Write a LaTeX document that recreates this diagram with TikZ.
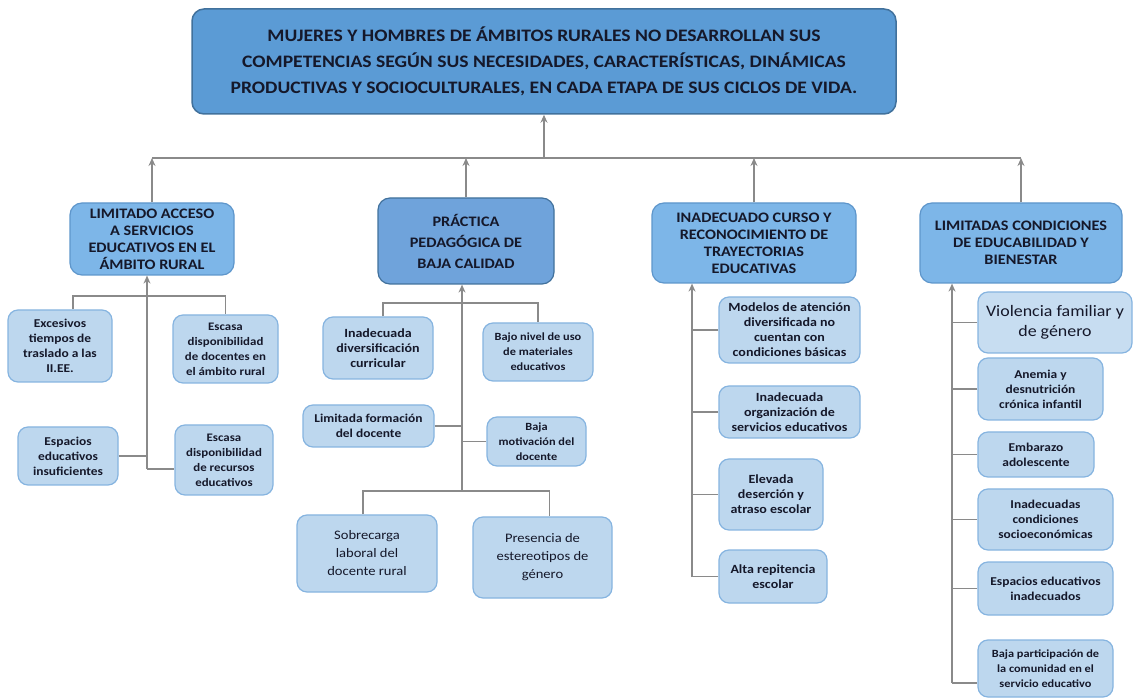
\documentclass[tikz,border=0pt]{standalone}
\usepackage{fontspec}
\setmainfont{Carlito}[FakeStretch=1.12]
\usetikzlibrary{arrows.meta}

\definecolor{topfill}{HTML}{5B9BD5}
\definecolor{topline}{HTML}{41719C}
\definecolor{catfill}{HTML}{7DB6E8}
\definecolor{catline}{HTML}{5E96CB}
\definecolor{cattwo}{HTML}{6FA3DB}
\definecolor{subfill}{HTML}{BDD7EE}
\definecolor{subline}{HTML}{86B4E0}
\definecolor{linkgray}{HTML}{8A8A8A}
\definecolor{ink}{HTML}{15182A}

\begin{document}
\begin{tikzpicture}[x=1pt, y=-1pt,
  efecto/.style={draw=topline, line width=1.5pt, fill=topfill, rounded corners=12pt, align=center,
    font=\fontsize{17.5}{26}\selectfont\bfseries, text=ink},
  causa/.style={draw=catline, line width=1.2pt, fill=catfill, rounded corners=12pt, align=center,
    font=\fontsize{14.5}{17}\selectfont\bfseries, text=ink},
  causados/.style={causa, draw=topline, fill=cattwo, font=\fontsize{14.5}{21}\selectfont\bfseries},
  sub/.style={draw=subline, line width=1.2pt, fill=subfill, rounded corners=10pt, align=center,
    font=\fontsize{#1}{15}\selectfont\bfseries, text=ink},
  sub/.default=12,
  subreg/.style={sub, font=\fontsize{#1}{18}\selectfont},
  subreg/.default=13,
  link/.style={draw=linkgray, line width=1.5pt},
  flecha/.style={link, -{Stealth[length=8pt, width=7pt]}}]
\useasboundingbox (0,0) rectangle (1136,700);

\node[efecto, minimum width=704pt, minimum height=105pt] (top) at (544,61.5)
  {MUJERES Y HOMBRES DE ÁMBITOS RURALES NO DESARROLLAN SUS\\COMPETENCIAS SEGÚN SUS NECESIDADES, CARACTERÍSTICAS, DINÁMICAS\\PRODUCTIVAS Y SOCIOCULTURALES, EN CADA ETAPA DE SUS CICLOS DE VIDA.};

\node[causa, minimum width=164pt, minimum height=72pt] (c1) at (152,239)
  {LIMITADO ACCESO\\A SERVICIOS\\EDUCATIVOS EN EL\\ÁMBITO RURAL};
\node[causados, minimum width=176pt, minimum height=86pt] (c2) at (466,241)
  {PRÁCTICA\\PEDAGÓGICA DE\\BAJA CALIDAD};
\node[causa, minimum width=204pt, minimum height=80pt] (c3) at (754,243)
  {INADECUADO CURSO Y\\RECONOCIMIENTO DE\\TRAYECTORIAS\\EDUCATIVAS};
\node[causa, minimum width=202pt, minimum height=80pt] (c4) at (1021,243)
  {LIMITADAS CONDICIONES\\DE EDUCABILIDAD Y\\BIENESTAR};

\coordinate (h) at (544,158);
\draw[link] (c1.north |- h) -- (c4.north |- h);
\draw[flecha] (h) -- (top.south);
\foreach \c in {c1,c2,c3,c4}
  \draw[flecha] (\c.north) -- (\c.north |- h);

% limitado acceso
\node[sub, minimum width=104pt, minimum height=72pt] (s11) at (60,346) {Excesivos\\tiempos de\\traslado a las\\II.EE.};
\node[sub=11.5, minimum width=105pt, minimum height=68pt] (s12) at (225.5,349) {Escasa\\disponibilidad\\de docentes en\\el ámbito rural};
\node[sub, minimum width=100pt, minimum height=58pt] (s13) at (68,456) {Espacios\\educativos\\insuficientes};
\node[sub=11.5, minimum width=98pt, minimum height=70pt] (s14) at (224,460) {Escasa\\disponibilidad\\de recursos\\educativos};
\coordinate (t1) at (147,469);
\coordinate (j1) at (147,296);
\draw[flecha] (t1) -- (t1 |- c1.south);
\draw[link] ([xshift=13pt]s11.north) |- (j1) -| (s12.north);
\draw[link] (s13.east) -- (s13.east -| t1);
\draw[link] (t1) -- (t1 -| s14.west);

% practica pedagogica
\node[sub=12.5, minimum width=110pt, minimum height=62pt] (s21) at (378,348) {Inadecuada\\diversificación\\curricular};
\node[sub=11, minimum width=110pt, minimum height=58pt] (s22) at (538,352) {Bajo nivel de uso\\de materiales\\educativos};
\node[sub, minimum width=131pt, minimum height=42pt] (s23) at (368.5,426) {Limitada formación\\del docente};
\node[sub=11, minimum width=99pt, minimum height=49pt] (s24) at (536.5,441.5) {Baja\\motivación del\\docente};
\node[subreg, minimum width=140pt, minimum height=77pt] (s25) at (367,553.5) {Sobrecarga\\laboral del\\docente rural};
\node[subreg, minimum width=139pt, minimum height=81pt] (s26) at (542.5,557.5) {Presencia de\\estereotipos de\\género};
\coordinate (t2) at (462,491);
\coordinate (j2) at (462,303);
\draw[flecha] (t2) -- (t2 |- c2.south);
\draw[link] ([xshift=5pt]s21.north) |- (j2) -| (s22.north);
\draw[link] (s23.east) -- (s23.east -| t2);
\draw[link] (s24.west) -- (s24.west -| t2);
\draw[link] ([xshift=-4pt]s25.north) |- (t2) -| ([xshift=7pt]s26.north);

% trayectorias
\node[sub=12.5, minimum width=141pt, minimum height=66pt] (s31) at (789.5,330) {Modelos de atención\\diversificada no\\cuentan con\\condiciones básicas};
\node[sub=12.5, minimum width=141pt, minimum height=52pt] (s32) at (789.5,412) {Inadecuada\\organización de\\servicios educativos};
\node[sub=12.5, minimum width=104pt, minimum height=71pt] (s33) at (771,494.5) {Elevada\\deserción y\\atraso escolar};
\node[sub=12.5, minimum width=108pt, minimum height=53pt] (s34) at (773,576.5) {Alta repitencia\\escolar};
\coordinate (t3) at (692,577);
\draw[flecha] (t3) -- (t3 |- c3.south);
\foreach \s in {s31,s32,s33,s34}
  \draw[link] (\s.west) -- (\s.west -| t3);

% educabilidad
\node[sub, minimum width=154pt, minimum height=61pt, fill=subfill!85!white,
  font=\fontsize{16}{20.5}\selectfont] (s41) at (1055,322.5) {Violencia familiar y\\de género};
\node[sub, minimum width=125pt, minimum height=62pt] (s42) at (1040.5,389) {Anemia y\\desnutrición\\crónica infantil};
\node[sub, minimum width=116pt, minimum height=45pt] (s43) at (1036,454.5) {Embarazo\\adolescente};
\node[sub, minimum width=135pt, minimum height=61pt] (s44) at (1045.5,519.5) {Inadecuadas\\condiciones\\socioeconómicas};
\node[sub, minimum width=135pt, minimum height=53pt] (s45) at (1045.5,588.5) {Espacios educativos\\inadecuados};
\node[sub=11, minimum width=135pt, minimum height=57pt] (s46) at (1045.5,668.5) {Baja participación de\\la comunidad en el\\servicio educativo};
\coordinate (t4) at (952,683);
\draw[flecha] (t4) -- (t4 |- c4.south);
\foreach \s in {s41,s42,s43,s44,s45}
  \draw[link] (\s.west) -- (\s.west -| t4);
\draw[link] (t4) -- (t4 -| s46.west);
\end{tikzpicture}
\end{document}
